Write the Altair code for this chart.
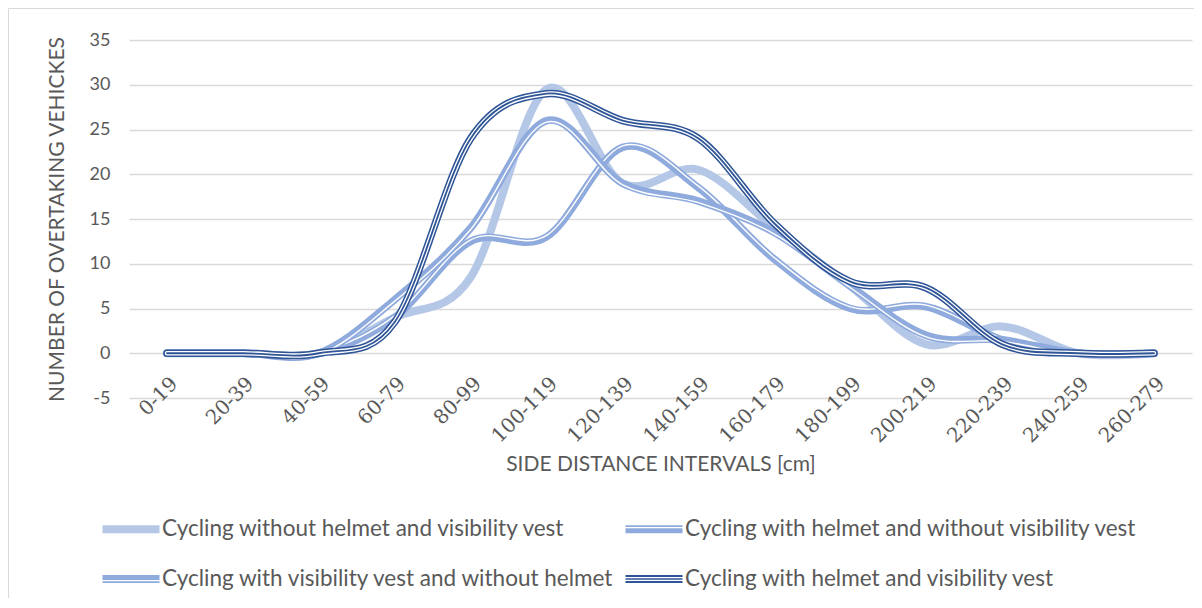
import altair as alt
import pandas as pd

categories = ["0-19", "20-39", "40-59", "60-79", "80-99", "100-119", "120-139",
              "140-159", "160-179", "180-199", "200-219", "220-239", "240-259", "260-279"]
series_names = [
    "Cycling without helmet and visibility vest",
    "Cycling with helmet and without visibility vest",
    "Cycling with visibility vest and without helmet",
    "Cycling with helmet and visibility vest",
]
no_helmet_no_vest = [0, 0, 0, 4, 8.5, 29.5, 19, 20.5, 14, 7.5, 1, 3, 0, 0]
helmet_no_vest = [0, 0, 0, 4, 12.5, 13, 23, 18.5, 10.5, 5, 5.2, 1.5, 0, 0]
vest_no_helmet = [0, 0, 0, 6, 14, 26, 19, 17, 13.5, 7.5, 2, 1.5, 0, 0]
helmet_and_vest = [0, 0, 0, 3.5, 24, 29, 26, 24, 14.5, 8, 7.3, 1, 0, 0]
y_ticks = [-5, 0, 5, 10, 15, 20, 25, 30, 35]

colors = ["#b4c7e7", "#8faadc", "#8faadc", "#2f5597"]
FONT = "Lato"
SERIF = "DejaVu Serif"
TXT = "#595959"

values_list = [no_helmet_no_vest, helmet_no_vest, vest_no_helmet, helmet_and_vest]
rows = []
for name, vals in zip(series_names, values_list):
    for c, v in zip(categories, vals):
        rows.append({"interval": c, "series": name, "value": v})
df = pd.DataFrame(rows)

W, H = 1063, 358
color_scale = alt.Scale(domain=series_names, range=colors)

x_enc = alt.X("interval:N", sort=categories,
              scale=alt.Scale(type="point", padding=0.5),
              axis=alt.Axis(title="SIDE DISTANCE INTERVALS [cm]", labelAngle=-45,
                            domain=False, ticks=False, grid=False, offset=-44.75,
                            labelPadding=20, labelFontSize=20, labelFont=SERIF,
                            labelColor=TXT, titleFont=FONT, titleFontSize=21,
                            titleFontWeight="normal", titleColor=TXT,
                            titleY=117, titleBaseline="alphabetic"))
y_enc = alt.Y("value:Q", scale=alt.Scale(domain=[-5, 35], nice=False, zero=False),
              axis=alt.Axis(values=y_ticks, title="NUMBER OF OVERTAKING VEHICKES",
                            labelExpr="datum.value + ''",
                            grid=True, gridColor="#d9d9d9", gridWidth=1.3,
                            domain=False, ticks=False, labelPadding=19,
                            labelFontSize=18, labelFont=FONT, labelColor=TXT,
                            titleFont=FONT, titleFontSize=21, titleFontWeight="normal",
                            titleColor=TXT, titleX=-66, titleY=179,
                            titleBaseline="alphabetic", titleAlign="center"))


def rect(a, y1, y2):
    return f"M{-a},{y1}L{a},{y1}L{a},{y2}L{-a},{y2}Z"


R = 22.0
A = round(28.5 / R, 4)


def band(*pairs):
    return "".join(rect(A, round(p[0] / R, 4), round(p[1] / R, 4)) for p in pairs)


paths = [
    band((-4, 4)),
    band((-4, -2.2), (-0.9, 4)),
    band((-4, 0.9), (2.2, 4)),
    band((-4, -2.0), (-0.7, 0.7), (2.0, 4)),
]

legend = alt.Legend(
    title=None, orient="none", legendX=-20, legendY=467, columns=2,
    direction="horizontal",
    symbolSize=R * R * 4, labelOffset=9, labelFont=FONT, labelFontSize=22.5,
    labelColor=TXT, labelLimit=800, columnPadding=10, rowPadding=16,
    symbolOpacity=1, symbolStrokeWidth=0,
)

layers = []
for i, name in enumerate(series_names):
    base = alt.Chart(df).transform_filter(alt.datum.series == name)
    width = 8 if i == 0 else 7.5
    layers.append(base.mark_line(interpolate="cardinal", tension=0, strokeWidth=width,
                                 color=colors[i], strokeCap="round",
                                 strokeJoin="round").encode(x=x_enc, y=y_enc))
    if i == 1:
        layers.append(base.mark_line(interpolate="cardinal", tension=0, strokeWidth=1.4,
                                     yOffset=-1.6, color="white").encode(x=x_enc, y=y_enc))
    if i == 2:
        layers.append(base.mark_line(interpolate="cardinal", tension=0, strokeWidth=1.4,
                                     yOffset=1.6, color="white").encode(x=x_enc, y=y_enc))
    if i == 3:
        layers.append(base.mark_line(interpolate="cardinal", tension=0, strokeWidth=4.4,
                                     color="white", strokeCap="round").encode(x=x_enc, y=y_enc))
        layers.append(base.mark_line(interpolate="cardinal", tension=0, strokeWidth=1.8,
                                     color=colors[3], strokeCap="round").encode(x=x_enc, y=y_enc))

legend_layer = alt.Chart(df).transform_filter("false").mark_point(filled=True).encode(
    x=x_enc, y=y_enc,
    color=alt.Color("series:N", scale=color_scale, legend=legend),
    shape=alt.Shape("series:N", scale=alt.Scale(domain=series_names, range=paths), legend=legend),
)

border_data = alt.Data(values=[{}])
top_border = alt.Chart(border_data).mark_rule(color="#d9d9d9", strokeWidth=1).encode(
    x=alt.value(-120.5), x2=alt.value(1066), y=alt.value(-31.5))
left_border = alt.Chart(border_data).mark_rule(color="#d9d9d9", strokeWidth=1).encode(
    x=alt.value(-120.5), y=alt.value(-31.5), y2=alt.value(570))

chart = alt.layer(top_border, left_border, *layers, legend_layer).properties(
    width=W, height=H,
    autosize=alt.AutoSizeParams(type="none"),
    padding={"left": 121, "top": 32, "right": 2, "bottom": 200},
    background="white",
).configure_view(strokeWidth=0)

chart.save("out.html", embed_options={"renderer": "svg", "actions": False})
